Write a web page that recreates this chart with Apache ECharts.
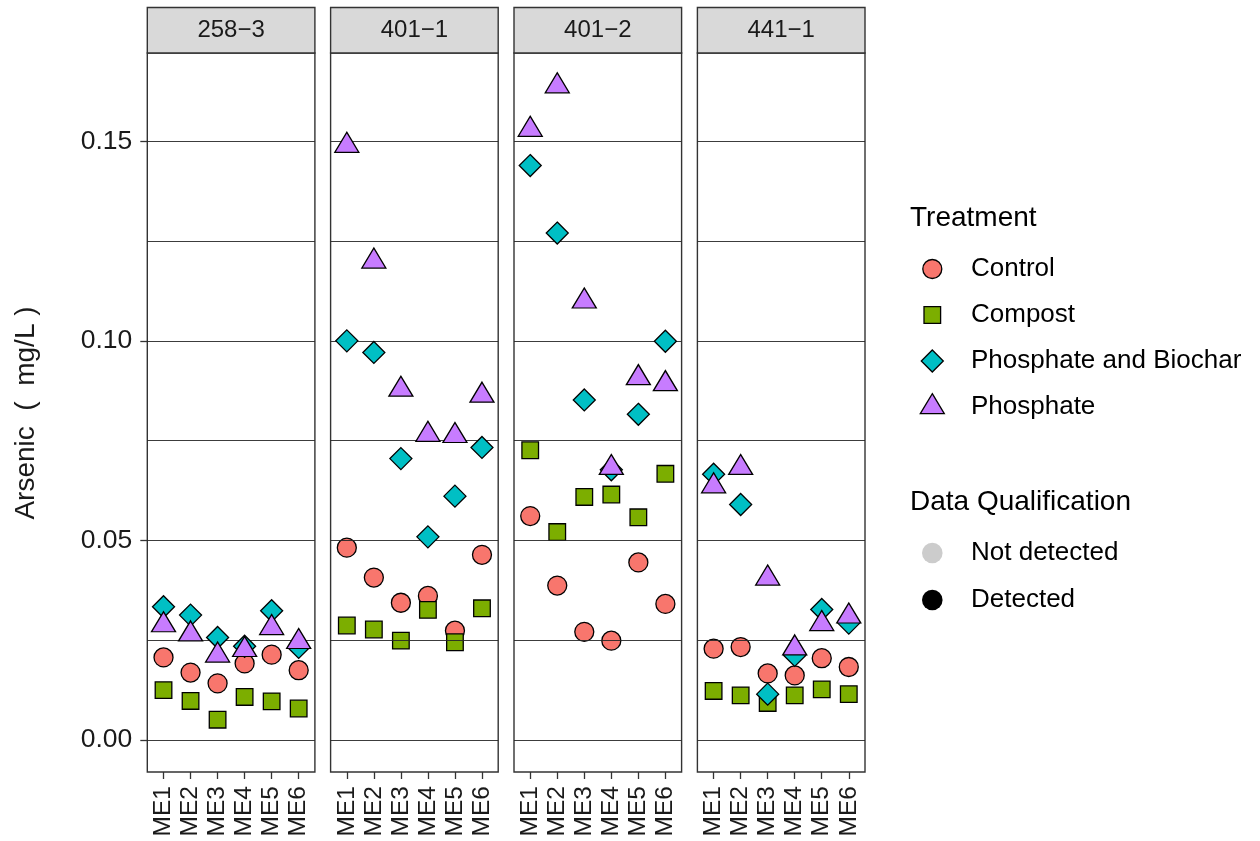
<!DOCTYPE html>
<html>
<head>
<meta charset="utf-8">
<script src="https://cdn.jsdelivr.net/npm/echarts@6/dist/echarts.min.js"></script>
<style>
  html, body { margin: 0; padding: 0; background: #ffffff; }
  #chart { width: 1260px; height: 841px; }
</style>
</head>
<body>
<div id="chart"></div>
<script>
// Sites (facets) and sampling points along the x axis
const sites = ['258\u22123', '401\u22121', '401\u22122', '441\u22121'];
const categories = ['ME1', 'ME2', 'ME3', 'ME4', 'ME5', 'ME6'];

// Arsenic (mg/L) per treatment, one row per site, ME1..ME6
const control = [
  [0.0207, 0.0169, 0.0142, 0.0192, 0.0214, 0.0175],
  [0.0482, 0.0407, 0.0344, 0.0361, 0.0274, 0.0464],
  [0.0561, 0.0387, 0.0271, 0.0249, 0.0445, 0.0341],
  [0.0229, 0.0233, 0.0167, 0.0162, 0.0205, 0.0183]
];
const compost = [
  [0.0125, 0.0098, 0.0051, 0.0108, 0.0097, 0.0079],
  [0.0287, 0.0277, 0.0249, 0.0326, 0.0245, 0.0330],
  [0.0726, 0.0521, 0.0609, 0.0615, 0.0558, 0.0667],
  [0.0123, 0.0112, 0.0093, 0.0112, 0.0127, 0.0115]
];
const phosphateBiochar = [
  [0.0334, 0.0313, 0.0257, 0.0235, 0.0324, 0.0232],
  [0.1000, 0.0971, 0.0705, 0.0509, 0.0611, 0.0733],
  [0.1439, 0.1270, 0.0852, 0.0677, 0.0816, 0.0999],
  [0.0666, 0.0590, 0.0115, 0.0212, 0.0327, 0.0293]
];
const phosphate = [
  [0.0288, 0.0265, 0.0212, 0.0226, 0.0281, 0.0246],
  [0.1489, 0.1199, 0.0878, 0.0765, 0.0762, 0.0863],
  [0.1529, 0.1638, 0.1099, 0.0682, 0.0907, 0.0892],
  [0.0636, 0.0682, 0.0405, 0.0230, 0.0291, 0.0310]
];

const treatments = ['Control', 'Compost', 'Phosphate and Biochar', 'Phosphate'];
const qualifications = ['Not detected', 'Detected'];
const yTicks = [0, 0.05, 0.10, 0.15];
const yGridLines = [0, 0.025, 0.05, 0.075, 0.10, 0.125, 0.15];

// ---- styling / layout ----
const FONT = '"Liberation Sans", Arial, Helvetica, sans-serif';
const INK = '#1a1a1a';
const FRAME = '#333333';
const fills = ['#F8766D', '#7CAE00', '#00BFC4', '#C77CFF'];
const qualFills = ['#CCCCCC', '#000000'];
const TRI_H = 20;
const symbols = [
  { symbol: 'circle', size: 19, offset: [0, 0] },
  { symbol: 'rect', size: 16.6, offset: [0, 0] },
  { symbol: 'diamond', size: 22, offset: [0, 0] },
  // triangle drawn around its centroid
  { symbol: 'triangle', size: [24, TRI_H], offset: [0, -TRI_H / 6] }
];
const seriesValues = [control, compost, phosphateBiochar, phosphate];

const panelLeft = [147.3, 330.6, 514, 697.4];
const panelWidth = 167.6;
const panelTop = 53;
const panelHeight = 719;
const yMin = -0.008, yMax = 0.1721;
const xTickValues = categories.map((c, i) => i + 1);

const grids = [], xAxes = [], yAxes = [], series = [], graphics = [];

sites.forEach((site, p) => {
  grids.push({
    left: panelLeft[p], top: panelTop, width: panelWidth, height: panelHeight,
    show: true, backgroundColor: '#ffffff', borderColor: FRAME, borderWidth: 1.4,
    containLabel: false
  });
  xAxes.push({
    type: 'value', gridIndex: p, min: 0.4, max: categories.length + 0.6,
    position: 'bottom',
    axisLine: { show: false, onZero: false },
    splitLine: { show: false },
    axisTick: { show: true, customValues: xTickValues, length: 7,
                lineStyle: { color: FRAME, width: 1.3 } },
    axisLabel: { show: true, customValues: xTickValues, rotate: 90, margin: 14,
                 fontSize: 24.5, fontFamily: FONT, color: INK,
                 formatter: v => categories[Math.round(v) - 1] }
  });
  yAxes.push({
    type: 'value', gridIndex: p, min: yMin, max: yMax,
    position: 'left',
    axisLine: { show: false, onZero: false },
    splitLine: { show: false },
    axisTick: { show: p === 0, customValues: yTicks, length: 7,
                lineStyle: { color: FRAME, width: 1.3 } },
    axisLabel: { show: p === 0, customValues: yTicks, margin: 15,
                 fontSize: 26.5, fontFamily: FONT, color: INK,
                 formatter: v => v.toFixed(2) }
  });
  // horizontal reference lines
  series.push({
    type: 'scatter', xAxisIndex: p, yAxisIndex: p, data: [], z: 1, silent: true,
    markLine: {
      silent: true, symbol: ['none', 'none'], animation: false, precision: 6,
      label: { show: false },
      lineStyle: { color: '#262626', width: 0.9, type: 'solid' },
      emphasis: { disabled: true },
      data: yGridLines.map(v => ({ yAxis: v }))
    }
  });
  treatments.forEach((t, k) => {
    series.push({
      name: t, type: 'scatter', xAxisIndex: p, yAxisIndex: p, z: 3 + k,
      symbol: symbols[k].symbol, symbolSize: symbols[k].size,
      symbolOffset: symbols[k].offset,
      itemStyle: { color: fills[k], borderColor: '#000000', borderWidth: 1.3, opacity: 1 },
      emphasis: { disabled: true },
      animation: false,
      data: seriesValues[k][p].map((v, i) => [i + 1, v])
    });
  });
  // facet strip
  graphics.push({
    type: 'rect', silent: true,
    shape: { x: panelLeft[p], y: 7.5, width: panelWidth, height: panelTop - 7.5 },
    style: { fill: '#D9D9D9', stroke: FRAME, lineWidth: 1.4 }
  });
  graphics.push({
    type: 'text', silent: true,
    x: panelLeft[p] + panelWidth / 2, y: 30.5,
    style: { text: site, fontSize: 24, fontFamily: FONT, fill: INK,
             textAlign: 'center', textVerticalAlign: 'middle', align: 'center', verticalAlign: 'middle' }
  });
});

// y axis title
graphics.push({
  type: 'text', silent: true, x: 26, y: 413, rotation: Math.PI / 2,
  style: { text: 'Arsenic  (  mg/L )', fontSize: 28, fontFamily: FONT, fill: INK,
           textAlign: 'center', textVerticalAlign: 'middle', align: 'center', verticalAlign: 'middle' }
});

// ---- legends ----
const LEG_ICON_X = 932.3, LEG_TEXT_X = 971, LEG_TITLE_X = 910;
function legendText(str, x, y, size) {
  return { type: 'text', silent: true, x: x, y: y,
           style: { text: str, fontSize: size, fontFamily: FONT, fill: '#000000',
                    textAlign: 'left', textVerticalAlign: 'middle', align: 'left', verticalAlign: 'middle' } };
}
const treatY = [269, 315, 361, 407];
graphics.push(legendText('Treatment', LEG_TITLE_X, 218, 28));
const stroke = { stroke: '#000000', lineWidth: 1.3 };
treatments.forEach((t, k) => {
  const y = treatY[k], x = LEG_ICON_X;
  let icon;
  if (k === 0) icon = { type: 'circle', shape: { cx: x, cy: y, r: 9.5 } };
  else if (k === 1) icon = { type: 'rect', shape: { x: x - 8.3, y: y - 8.3, width: 16.6, height: 16.6 } };
  else if (k === 2) icon = { type: 'polygon', shape: { points: [[x, y - 11], [x + 11, y], [x, y + 11], [x - 11, y]] } };
  else icon = { type: 'polygon', shape: { points: [[x, y - TRI_H * 2 / 3], [x + 12, y + TRI_H / 3], [x - 12, y + TRI_H / 3]] } };
  icon.silent = true;
  icon.style = Object.assign({ fill: fills[k] }, stroke);
  graphics.push(icon);
  graphics.push(legendText(t, LEG_TEXT_X, y, 26));
});

const qualY = [553, 600];
graphics.push(legendText('Data Qualification', LEG_TITLE_X, 502.5, 28));
qualifications.forEach((q, k) => {
  graphics.push({ type: 'circle', silent: true, shape: { cx: LEG_ICON_X, cy: qualY[k], r: 10.3 },
                  style: { fill: qualFills[k] } });
  graphics.push(legendText(q, LEG_TEXT_X, qualY[k], 26));
});

const chart = echarts.init(document.getElementById('chart'), null, { renderer: 'canvas' });
chart.setOption({
  backgroundColor: '#ffffff',
  animation: false,
  textStyle: { fontFamily: FONT },
  grid: grids,
  xAxis: xAxes,
  yAxis: yAxes,
  series: series,
  graphic: { elements: graphics }
});
</script>
</body>
</html>
